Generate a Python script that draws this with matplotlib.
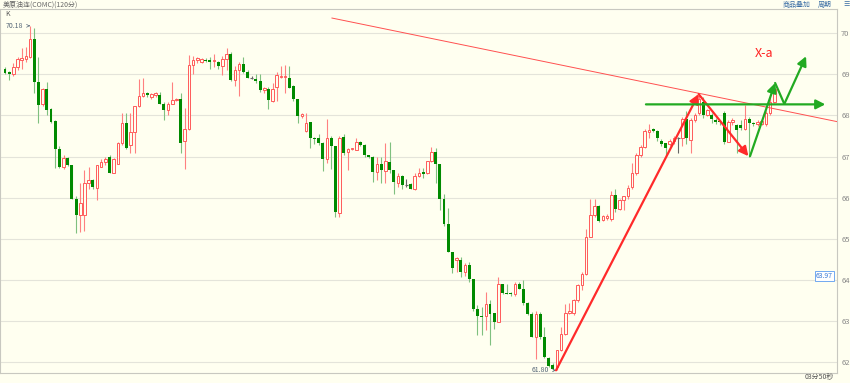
import matplotlib.pyplot as plt

# 字体: 中文用 Noto Sans CJK SC, 其他字符回落到 DejaVu Sans
plt.rcParams['font.family'] = ['Noto Sans CJK SC', 'DejaVu Sans']

# ---- 数据 (120分钟K线, 从图上读出) ----
opens = [
    69.14, 69.06, 69.00, 69.18, 69.34, 69.38, 69.42, 69.85, 68.82, 68.27,
    68.64, 68.15, 67.86, 67.19, 66.75, 66.96, 66.79, 65.98, 65.57, 65.57,
    66.35, 66.42, 66.23, 66.75, 66.87, 66.99, 66.60, 66.83, 67.32, 67.82,
    67.27, 67.60, 68.22, 68.47, 68.55, 68.45, 68.50, 68.49, 68.29, 68.13,
    68.29, 68.37, 68.41, 67.39, 67.66, 69.22, 69.34,
    69.30, 69.36, 69.34, 69.33, 69.30, 69.20, 69.38, 69.49, 68.86, 69.10,
    69.25, 69.06, 68.91, 68.88, 68.84, 68.63, 68.65, 68.35, 68.69, 68.93,
    68.94, 68.90, 68.71, 68.41, 67.98, 67.62, 67.83, 67.44, 67.44, 67.33,
    66.95, 67.46, 67.25, 65.63, 67.48, 67.11, 67.18, 67.17, 67.36, 67.28,
    67.03, 66.99, 66.63, 66.81, 66.65, 66.87, 66.67, 66.36, 66.52, 66.30,
    66.33, 66.22, 66.52, 66.62, 66.60, 66.89, 67.11, 66.81, 65.98, 65.37,
    64.68, 64.48, 64.49, 64.19, 64.36, 64.03, 63.28, 63.12, 63.12, 63.42,
    63.20, 62.98, 63.89, 63.68, 63.67, 63.65, 63.89, 63.79, 63.44, 63.18,
    62.60, 63.18, 62.60, 62.11, 61.92, 61.87, 62.30, 62.68, 63.20, 63.20,
    63.50, 63.87, 64.14, 65.04, 65.57, 65.79,
    65.45, 65.50, 65.49, 66.06, 65.73, 65.95, 66.03, 66.25, 66.60, 67.03,
    67.23, 67.60, 67.66, 67.62, 67.38, 67.32, 67.30, 67.38, 67.45, 67.44,
    67.92, 67.40, 67.88,
    68.05, 68.33, 68.00, 68.00, 67.90, 67.86, 68.05, 67.36, 67.84, 67.76,
    67.76, 67.68, 67.92, 67.82, 67.80, 67.80, 67.80, 68.05, 68.33,
]
highs = [
    69.18, 69.08, 69.28, 69.42, 69.63, 69.67, 70.18, 70.12, 69.42, 68.66,
    68.82, 68.17, 67.90, 67.25, 67.04, 67.00, 66.80, 66.04, 66.35, 66.67,
    66.75, 66.45, 66.80, 66.95, 67.00, 67.03, 66.97, 67.35, 68.05, 68.05,
    68.05, 68.23, 68.88, 68.90, 68.57, 68.55, 68.57, 68.58, 68.33, 68.33,
    68.82, 68.42, 68.55, 68.18, 69.46, 69.45, 69.42,
    69.40, 69.40, 69.42, 69.50, 69.32, 69.45, 69.65, 69.55, 69.20, 69.30,
    69.42, 69.10, 68.95, 69.00, 69.00, 68.70, 68.70, 68.80, 69.06, 69.20,
    69.22, 69.20, 68.73, 68.41, 68.05, 68.05, 67.83, 67.48, 67.55, 67.36,
    67.91, 67.50, 67.25, 67.50, 67.56, 67.20, 67.22, 67.45, 67.38, 67.30,
    67.05, 67.01, 66.98, 67.00, 67.32, 67.36, 66.67, 66.60, 66.56, 66.45,
    66.35, 66.60, 66.71, 66.72, 66.90, 67.23, 67.20, 66.81, 66.10, 65.74,
    64.68, 64.56, 64.56, 64.40, 64.44, 64.03, 63.40, 63.35, 63.70, 63.50,
    63.20, 64.07, 63.90, 63.90, 63.70, 63.95, 63.95, 64.00, 63.46, 63.22,
    63.25, 63.22, 62.85, 62.12, 61.98, 62.30, 62.85, 63.42, 63.45, 63.54,
    63.91, 64.20, 65.24, 65.98, 65.98, 65.81,
    65.58, 65.60, 66.16, 66.20, 65.98, 66.05, 66.30, 66.85, 67.08, 67.28,
    67.67, 67.80, 67.70, 67.65, 67.42, 67.34, 67.42, 67.50, 67.48, 67.97,
    68.10, 67.95, 68.05,
    68.53, 68.45, 68.15, 68.05, 67.95, 67.90, 68.10, 67.90, 67.93, 67.80,
    67.88, 68.25, 67.97, 67.85, 67.88, 67.90, 68.10, 68.45, 68.75,
]
lows = [
    69.00, 68.87, 68.95, 69.10, 69.14, 69.30, 69.39, 68.55, 67.81, 68.22,
    68.00, 67.82, 66.72, 66.72, 66.70, 66.77, 65.98, 65.14, 65.17, 65.18,
    66.20, 66.20, 65.94, 66.75, 66.80, 66.60, 66.60, 66.82, 67.28, 67.18,
    67.08, 67.08, 68.20, 68.45, 68.45, 68.40, 68.45, 68.27, 67.90, 68.00,
    68.29, 68.35, 67.08, 66.69, 67.64, 69.00, 69.28,
    69.28, 69.30, 69.14, 69.18, 69.12, 68.98, 69.10, 68.85, 68.71, 68.47,
    69.04, 68.90, 68.88, 68.78, 68.58, 68.55, 68.15, 68.33, 68.35, 68.90,
    68.55, 68.67, 68.35, 67.81, 67.95, 67.60, 67.20, 67.30, 67.28, 66.65,
    66.85, 66.69, 65.53, 65.53, 67.05, 66.68, 67.15, 67.15, 67.25, 67.00,
    66.97, 66.38, 66.44, 66.35, 66.35, 66.60, 66.10, 66.26, 66.22, 66.25,
    66.20, 66.18, 66.50, 66.48, 66.57, 66.87, 66.35, 65.69, 65.30, 64.68,
    64.16, 64.19, 64.07, 64.10, 63.95, 63.25, 62.65, 62.65, 62.77, 62.41,
    62.80, 62.98, 63.65, 63.65, 63.60, 63.62, 63.79, 63.38, 63.15, 62.61,
    62.08, 62.57, 62.10, 61.88, 61.82, 61.80, 62.28, 62.66, 63.18, 63.15,
    63.47, 63.75, 64.12, 65.04, 65.54, 65.41,
    65.43, 65.45, 65.43, 65.65, 65.70, 65.70, 65.98, 66.22, 66.55, 66.98,
    67.20, 67.45, 67.60, 67.38, 67.26, 67.03, 67.26, 67.30, 67.09, 67.25,
    67.30, 67.08, 67.85,
    68.00, 67.95, 67.98, 67.81, 67.80, 67.78, 67.30, 67.36, 67.78, 67.09,
    67.65, 67.65, 66.98, 67.75, 67.75, 67.78, 67.75, 68.00, 68.30,
]
closes = [
    69.03, 69.00, 69.18, 69.38, 69.40, 69.44, 69.85, 68.82, 68.25, 68.64,
    68.13, 67.84, 67.19, 66.75, 66.96, 66.80, 65.98, 65.57, 65.86, 66.35,
    66.42, 66.25, 66.79, 66.87, 66.95, 66.60, 66.94, 67.33, 67.82, 67.20,
    67.60, 68.22, 68.47, 68.55, 68.50, 68.52, 68.55, 68.29, 68.13, 68.29,
    68.37, 68.41, 67.33, 67.66, 69.22, 69.34, 69.40,
    69.37, 69.33, 69.29, 69.35, 69.20, 69.38, 69.49, 68.87, 69.10, 69.25,
    69.06, 68.91, 68.91, 68.83, 68.63, 68.66, 68.37, 68.65, 68.99, 68.97,
    68.96, 68.68, 68.41, 67.98, 68.03, 67.82, 67.46, 67.42, 67.33, 66.95,
    67.46, 67.25, 65.65, 67.46, 67.09, 67.19, 67.20, 67.36, 67.28, 67.03,
    66.99, 66.63, 66.83, 66.67, 66.89, 66.67, 66.38, 66.52, 66.30, 66.30,
    66.22, 66.52, 66.59, 66.58, 66.89, 67.11, 66.81, 65.98, 65.37, 64.68,
    64.28, 64.54, 64.19, 64.36, 64.03, 63.28, 63.12, 63.10, 63.42, 63.18,
    62.98, 63.89, 63.68, 63.66, 63.65, 63.89, 63.79, 63.44, 63.18, 62.61,
    63.18, 62.60, 62.12, 61.90, 61.84, 62.30, 62.68, 63.20, 63.24, 63.50,
    63.87, 64.14, 65.04, 65.57, 65.79, 65.43,
    65.55, 65.55, 66.06, 65.73, 65.94, 66.03, 66.24, 66.59, 67.05, 67.23,
    67.62, 67.65, 67.63, 67.44, 67.30, 67.20, 67.38, 67.45, 67.45, 67.92,
    67.44, 67.90, 68.00,
    68.41, 68.00, 68.13, 67.92, 67.84, 67.83, 67.36, 67.84, 67.90, 67.64,
    67.69, 67.92, 67.82, 67.80, 67.84, 67.86, 68.05, 68.33, 68.65,
]

# 画线工具 (K线序号, 价格)
red_wave = [(131.8, 61.80), (165.9, 68.52), (177.8, 67.01)]
green_wave = [(178.2, 67.01), (184.2, 68.79), (186.4, 68.28), (191.6, 69.44)]
green_level = [(153.3, 68.27), (196.2, 68.27)]
trend_line = [(78.2, 70.37), (199.5, 67.84)]

W, H = 850, 383
BG = '#fffff0'
UP = '#ff5a5a'
DOWN = '#008a00'
RED_PEN = '#ff2a2a'
GREEN_PEN = '#22aa22'

fig = plt.figure(figsize=(W / 100, H / 100), dpi=100, facecolor=BG)
ax = fig.add_axes([0, 10 / H, 837 / W, 364 / H], facecolor=BG)

# K线
for i, (o, h, l, c) in enumerate(zip(opens, highs, lows, closes)):
    if c > o:
        ax.vlines(i, l, h, color='#ff8080', lw=0.8, zorder=2)
        ax.bar(i, c - o, bottom=o, width=0.62, facecolor=BG, edgecolor=UP,
               linewidth=0.7, zorder=3)
    elif c < o:
        ax.vlines(i, l, h, color='#7fc07f', lw=0.8, zorder=2)
        ax.bar(i, o - c, bottom=c, width=0.7, color=DOWN, linewidth=0, zorder=3)
    else:
        ax.vlines(i, l, h, color='#666666', lw=0.8, zorder=2)
        ax.hlines(c, i - 0.35, i + 0.35, color='#666666', lw=0.8, zorder=3)

# 趋势线
ax.plot([p[0] for p in trend_line], [p[1] for p in trend_line], color='#ff5050', lw=0.7, zorder=4)


def seg(a, b, color, head=True):
    style = '-|>,head_length=0.55,head_width=0.28' if head else '-'
    ax.annotate('', xy=b, xytext=a,
                arrowprops=dict(arrowstyle=style, color=color, lw=1.6,
                                mutation_scale=10, shrinkA=0, shrinkB=0), zorder=6)


# 红色: 61.80 到高点再回落
seg(red_wave[0], red_wave[1], RED_PEN)
seg(red_wave[1], red_wave[2], RED_PEN)
# 绿色
seg(green_wave[0], green_wave[1], GREEN_PEN)
seg(green_wave[1], green_wave[2], GREEN_PEN, head=False)
seg(green_wave[2], green_wave[3], GREEN_PEN)
seg(green_level[0], green_level[1], GREEN_PEN)

ax.text(181.6, 69.5, 'X-a', color='#ff2020', fontsize=9, ha='center', va='center', zorder=7)

# 坐标轴
ax.set_xlim(-1.2, 199)
ax.set_ylim(61.735, 70.59)
ax.set_xticks([])
ax.set_yticks(range(62, 71))
ax.yaxis.tick_right()
ax.tick_params(axis='y', length=0, pad=3, labelsize=5.5, labelcolor='#888888')
ax.grid(axis='y', color='#e4e4da', lw=0.8, zorder=0)
for s in ax.spines.values():
    s.set_color('#c8c8c0')
    s.set_linewidth(0.8)

# 最高/最低价标注
ax.annotate('70.18', xy=(6, 70.18), xytext=(0.2, 70.18), fontsize=5, color='#556677',
            va='center', arrowprops=dict(arrowstyle='->', color='#556677', lw=0.5))
ax.annotate('61.80', xy=(131.8, 61.80), xytext=(130.0, 61.80), fontsize=5, color='#556677',
            va='center', ha='right', arrowprops=dict(arrowstyle='->', color='#556677', lw=0.5))

# 顶部标题栏
fig.text(3 / W, 1 - 4.5 / H, '美原油连(COMC)(120分)', fontsize=5, color='#666666', va='center')
fig.text(783 / W, 1 - 4.5 / H, '商品叠加', fontsize=5, color='#3b6ea5', va='center')
fig.text(818 / W, 1 - 4.5 / H, '周期', fontsize=5, color='#3b6ea5', va='center')
fig.text(843 / W, 1 - 4.5 / H, '☰', fontsize=5, color='#3b6ea5', va='center')
fig.text(5 / W, 1 - 14 / H, 'K', fontsize=5, color='#555555', va='center')

# 右侧当前价与计时
fig.text(816 / W, 1 - 276 / H, '63.97', fontsize=5, color='#3b7bd6', va='center',
         bbox=dict(boxstyle='square,pad=0.15', fc='white', ec='#5b9bf0', lw=0.6))
fig.text(805 / W, 1 - 377 / H, '03分50秒', fontsize=5, color='#555555', va='center')

fig.savefig('out.png', dpi=100, facecolor=BG)
